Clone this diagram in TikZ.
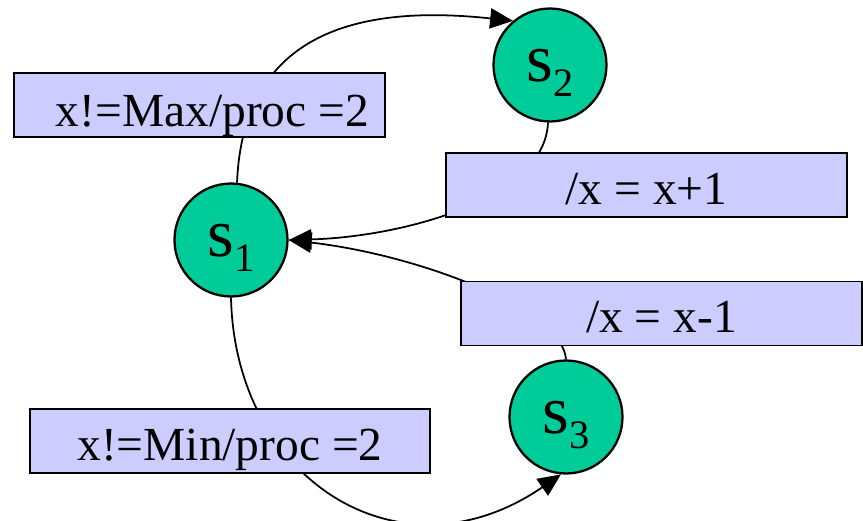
\documentclass[tikz,border=0pt]{standalone}
\usepackage{fontspec}
\setmainfont{Liberation Serif}
\usepackage{tikz}
\usetikzlibrary{arrows.meta}
\definecolor{stgreen}{RGB}{0,204,153}
\definecolor{grdblue}{RGB}{204,204,255}
\tikzset{
  st/.style={draw, circle, fill=stgreen, line width=1.3pt, minimum size=2.26cm, inner sep=0pt,
             text height=20pt, text depth=1pt, font=\fontsize{39}{42}\selectfont},
  grd/.style={draw, rectangle, fill=grdblue, line width=1.1pt, minimum height=1.28cm, inner sep=0pt,
              text height=23pt, text depth=1pt, font=\fontsize{27}{30}\selectfont},
  tr/.style={-{Triangle[length=13pt,width=11.5pt]}, line width=1pt}
}
\newcommand{\sname}[1]{s\raisebox{-8.5pt}{\fontsize{23}{25}\selectfont #1}}

\begin{document}
\begin{tikzpicture}[x=0.02cm, y=-0.02cm]
\useasboundingbox (0,0) rectangle (863,521);
\node[st] (s1) at (231,240) {\sname{1}};
\node[st] (s2) at (550,65) {\sname{2}};
\node[st] (s3) at (566,417) {\sname{3}};
% transitions, guards drawn over them
\draw[tr] (s1.84) .. controls (242,60) and (320,0) .. (s2.130);
\draw[tr] (s2.-92) .. controls (545,200) and (400,237) .. (s1.east);
\draw[tr] (s3.north) .. controls (563,310) and (420,255) .. (s1.east);
\draw[tr] (s1.south) .. controls (235,480) and (400,585) .. (s3.-95);
\node[grd, minimum width=7.42cm, text height=26pt] (gmax) at (199.5,105) {\hspace*{0.52cm}x!=Max/proc =2};
\node[grd, minimum width=8.02cm] (ginc) at (646.5,185) {/x = x+1};
\node[grd, minimum width=8.02cm] (gdec) at (661.5,313.5) {/x = x-1};
\node[grd, minimum width=8cm] (gmin) at (230,441) {x!=Min/proc =2};
\end{tikzpicture}
\end{document}
